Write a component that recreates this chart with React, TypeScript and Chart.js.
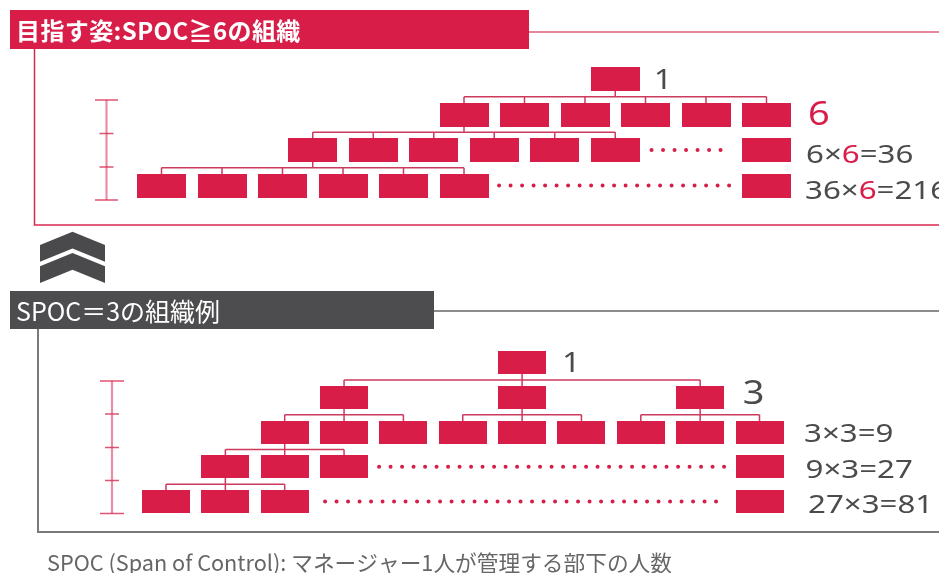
import React, { useEffect, useRef } from "react";
import { Chart, registerables } from "chart.js";

Chart.register(...registerables);

const W = 939;
const H = 573;
const RED = "#d81e48";
const LINE_RED = "#cc3a5e";
const GRAY_TEXT = "#4b4b4b";
const FONT = '"Noto Sans CJK JP", "Noto Sans", sans-serif';
const NUM_FONT = '"Noto Sans", "Open Sans", sans-serif';

// ---------- Top organisation: SPOC ≥ 6 ----------
const topTitle = "目指す姿:SPOC≧6の組織";
const topSpoc = 6;
const topLevelCounts = [1, 6, 36, 216];
// box positions (slot index) per level
const topLevelSlots = [
  [7.5],
  [5, 6, 7, 8, 9, 10],
  [2.5, 3.5, 4.5, 5.5, 6.5, 7.5, 10],
  [0, 1, 2, 3, 4, 5, 10],
];
const topGroupLevels = [0, 1, 2];
const topGroupParents = [7.5, 5, 2.5];
const topGroupChildren = [
  [5, 6, 7, 8, 9, 10],
  [2.5, 3.5, 4.5, 5.5, 6.5, 7.5],
  [0, 1, 2, 3, 4, 5],
];
const topEllipsisLevels = [2, 3];
const topEllipsisFrom = [8.1, 5.58];
const topEllipsisTo = [9.27, 9.57];

// ---------- Bottom organisation: SPOC = 3 ----------
const botTitle = "SPOC＝3の組織例";
const botSpoc = 3;
const botLevelCounts = [1, 3, 9, 27, 81];
const botLevelSlots = [
  [6],
  [3, 6, 9],
  [2, 3, 4, 5, 6, 7, 8, 9, 10],
  [1, 2, 3, 10],
  [0, 1, 2, 10],
];
const botGroupLevels = [0, 1, 1, 1, 2, 3];
const botGroupParents = [6, 3, 6, 9, 2, 1];
const botGroupChildren = [
  [3, 6, 9],
  [2, 3, 4],
  [5, 6, 7],
  [8, 9, 10],
  [1, 2, 3],
  [0, 1, 2],
];
const botEllipsisLevels = [3, 4];
const botEllipsisFrom = [3.59, 2.68];
const botEllipsisTo = [9.42, 9.29];

const footnote = "SPOC (Span of Control): マネージャー1人が管理する部下の人数";

// ---------- layout / style (not data) ----------
function rangeFor(originPx: number, unitPx: number, totalPx: number) {
  return { min: -originPx / unitPx, max: (totalPx - originPx) / unitPx };
}
const TOP_X = rangeFor(161.5, 60.5, W);
const TOP_Y = rangeFor(79, 35.5, H);
const BOT_X = rangeFor(166, 59.35, W);
const BOT_Y = rangeFor(362.5, 34.75, H);

const TOP_BOX = { w: 49, h: 24 };
const BOT_BOX = { w: 48, h: 23 };

const topLabelStyle = [
  { size: 27, dx: 14, dy: 9.5, color: GRAY_TEXT, sx: 1.2 },
  { size: 33, dx: 17, dy: 10, color: RED, sx: 1.15 },
  { size: 25, dx: 15, dy: 13, color: GRAY_TEXT, sx: 1.25 },
  { size: 25, dx: 14, dy: 13, color: GRAY_TEXT, sx: 1.25 },
];
const botLabelStyle = [
  { size: 27, dx: 16, dy: 9.5, color: GRAY_TEXT, sx: 1.2 },
  { size: 33, dx: 18.5, dy: 7, color: GRAY_TEXT, sx: 1.15 },
  { size: 25, dx: 20.5, dy: 10, color: GRAY_TEXT, sx: 1.25 },
  { size: 25, dx: 22, dy: 11.5, color: GRAY_TEXT, sx: 1.25 },
  { size: 25, dx: 24.5, dy: 11, color: GRAY_TEXT, sx: 1.25 },
];

type Seg = { text: string; color: string };

function labelSegments(counts: number[], spoc: number, level: number, baseColor: string, spocColor: string): Seg[] {
  if (level < 2) return [{ text: String(counts[level]), color: baseColor }];
  return [
    { text: `${counts[level - 1]}×`, color: baseColor },
    { text: String(spoc), color: spocColor },
    { text: `=${counts[level]}`, color: baseColor },
  ];
}

function makeBox(w: number, h: number, color: string) {
  const c = document.createElement("canvas");
  c.width = w;
  c.height = h;
  const g = c.getContext("2d")!;
  g.fillStyle = color;
  g.fillRect(0, 0, w, h);
  return c;
}

function buildDatasets(
  levelSlots: number[][],
  groupLevels: number[],
  groupParents: number[],
  groupChildren: number[][],
  ellLevels: number[],
  ellFrom: number[],
  ellTo: number[],
  box: HTMLCanvasElement,
  xID: string,
  yID: string
) {
  const ds: any[] = [];
  levelSlots.forEach((slots, lvl) => {
    ds.push({
      type: "scatter",
      data: slots.map((s) => ({ x: s, y: lvl })),
      pointStyle: box,
      pointRadius: 10,
      showLine: false,
      clip: false,
      order: 0,
      xAxisID: xID,
      yAxisID: yID,
    });
  });
  const line = (pts: { x: number; y: number }[]) => ({
    type: "scatter",
    data: pts,
    showLine: true,
    borderColor: LINE_RED,
    borderWidth: 1.5,
    pointRadius: 0,
    clip: false,
    order: 2,
    xAxisID: xID,
    yAxisID: yID,
  });
  groupLevels.forEach((lvl, gi) => {
    const ch = groupChildren[gi];
    const mid = lvl + 0.5;
    ds.push(line([{ x: ch[0], y: mid }, { x: ch[ch.length - 1], y: mid }]));
    ds.push(line([{ x: groupParents[gi], y: lvl }, { x: groupParents[gi], y: mid }]));
    ch.forEach((c) => ds.push(line([{ x: c, y: mid }, { x: c, y: lvl + 1 }])));
  });
  ellLevels.forEach((lvl, i) => {
    ds.push({
      type: "scatter",
      data: [
        { x: ellFrom[i], y: lvl },
        { x: ellTo[i], y: lvl },
      ],
      showLine: true,
      borderColor: RED,
      borderWidth: 4,
      borderDash: [0, 11.5],
      borderCapStyle: "round",
      pointRadius: 0,
      clip: false,
      order: 1,
      xAxisID: xID,
      yAxisID: yID,
    });
  });
  return ds;
}

function drawRich(ctx: CanvasRenderingContext2D, x: number, y: number, segs: Seg[], font: string, sx: number) {
  ctx.save();
  ctx.translate(x, y);
  ctx.scale(sx, 1);
  ctx.font = font;
  ctx.textBaseline = "alphabetic";
  ctx.textAlign = "left";
  let cx = 0;
  for (const s of segs) {
    ctx.fillStyle = s.color;
    ctx.fillText(s.text, cx, 0);
    cx += ctx.measureText(s.text).width;
  }
  ctx.restore();
}

const decorPlugin = {
  id: "decor",
  beforeDatasetsDraw(chart: any) {
    const ctx: CanvasRenderingContext2D = chart.ctx;
    ctx.save();
    // top frame
    ctx.fillStyle = RED;
    ctx.fillRect(10, 10, 519, 39);
    ctx.strokeStyle = "#df5f7e";
    ctx.lineWidth = 1.5;
    ctx.beginPath();
    ctx.moveTo(529, 32);
    ctx.lineTo(W, 32);
    ctx.stroke();
    ctx.strokeStyle = "#d8284f";
    ctx.lineWidth = 1.5;
    ctx.beginPath();
    ctx.moveTo(34.5, 49);
    ctx.lineTo(34.5, 225);
    ctx.lineTo(W, 225);
    ctx.stroke();

    // chevrons
    ctx.fillStyle = "#4a4a4c";
    for (const y0 of [231.7, 253]) {
      ctx.beginPath();
      ctx.moveTo(40, y0 + 13.3);
      ctx.lineTo(72.5, y0);
      ctx.lineTo(105, y0 + 13.3);
      ctx.lineTo(105, y0 + 30);
      ctx.lineTo(72.5, y0 + 16.7);
      ctx.lineTo(40, y0 + 30);
      ctx.closePath();
      ctx.fill();
    }

    // bottom frame
    ctx.fillStyle = "#4d4d4f";
    ctx.fillRect(10, 291, 424, 38);
    ctx.strokeStyle = "#666";
    ctx.lineWidth = 1.5;
    ctx.beginPath();
    ctx.moveTo(434, 311);
    ctx.lineTo(W, 311);
    ctx.stroke();
    ctx.strokeStyle = "#7a7a7a";
    ctx.lineWidth = 2;
    ctx.beginPath();
    ctx.moveTo(38, 329);
    ctx.lineTo(38, 532);
    ctx.lineTo(W, 532);
    ctx.stroke();

    // scale bars
    const bar = (x: number, y0: number, y1: number, ticks: number[], capW: number, tickW: number) => {
      ctx.strokeStyle = "rgba(226,80,115,0.65)";
      ctx.lineWidth = 2.2;
      ctx.beginPath();
      ctx.moveTo(x, y0);
      ctx.lineTo(x, y1);
      ctx.stroke();
      ctx.strokeStyle = "rgba(216,40,80,0.8)";
      ctx.lineWidth = 1.6;
      ctx.beginPath();
      ctx.moveTo(x - capW / 2, y0);
      ctx.lineTo(x + capW / 2, y0);
      ctx.moveTo(x - capW / 2, y1);
      ctx.lineTo(x + capW / 2, y1);
      for (const t of ticks) {
        ctx.moveTo(x - tickW / 2, t);
        ctx.lineTo(x + tickW / 2, t);
      }
      ctx.stroke();
    };
    bar(106.5, 100, 200, [133.5, 167], 23, 14);
    bar(112, 381, 513.5, [414, 447.5, 480.5], 24, 14);
    ctx.restore();
  },
  afterDatasetsDraw(chart: any) {
    const ctx: CanvasRenderingContext2D = chart.ctx;
    const s = chart.scales;
    ctx.save();
    // titles
    ctx.fillStyle = "#ffffff";
    ctx.textBaseline = "middle";
    ctx.textAlign = "left";
    ctx.font = `bold 24px ${FONT}`;
    (ctx as any).letterSpacing = "0.4px";
    ctx.fillText(topTitle, 16, 31);
    (ctx as any).letterSpacing = "0px";
    ctx.font = `25px ${FONT}`;
    ctx.fillText(botTitle, 16, 311);
    // footnote
    ctx.fillStyle = "#666666";
    ctx.font = `21.7px ${FONT}`;
    ctx.fillText(footnote, 47, 563);

    // level labels
    topLevelCounts.forEach((_, lvl) => {
      const slots = topLevelSlots[lvl];
      const st = topLabelStyle[lvl];
      const x = s.xt.getPixelForValue(slots[slots.length - 1]) + TOP_BOX.w / 2 + st.dx;
      const y = s.yt.getPixelForValue(lvl) + st.dy;
      drawRich(ctx, x, y, labelSegments(topLevelCounts, topSpoc, lvl, st.color, RED), `400 ${st.size}px ${NUM_FONT}`, st.sx);
    });
    botLevelCounts.forEach((_, lvl) => {
      const slots = botLevelSlots[lvl];
      const st = botLabelStyle[lvl];
      const x = s.xb.getPixelForValue(slots[slots.length - 1]) + BOT_BOX.w / 2 + st.dx;
      const y = s.yb.getPixelForValue(lvl) + st.dy;
      drawRich(ctx, x, y, labelSegments(botLevelCounts, botSpoc, lvl, st.color, st.color), `400 ${st.size}px ${NUM_FONT}`, st.sx);
    });
    ctx.restore();
  },
};

export default function App() {
  const ref = useRef<HTMLCanvasElement | null>(null);
  useEffect(() => {
    document.body.style.margin = "0";
    const canvas = ref.current!;
    const topBox = makeBox(TOP_BOX.w, TOP_BOX.h, RED);
    const botBox = makeBox(BOT_BOX.w, BOT_BOX.h, RED);
    const datasets = [
      ...buildDatasets(topLevelSlots, topGroupLevels, topGroupParents, topGroupChildren, topEllipsisLevels, topEllipsisFrom, topEllipsisTo, topBox, "xt", "yt"),
      ...buildDatasets(botLevelSlots, botGroupLevels, botGroupParents, botGroupChildren, botEllipsisLevels, botEllipsisFrom, botEllipsisTo, botBox, "xb", "yb"),
    ];
    const hidden = { type: "linear" as const, display: false };
    const chart = new Chart(canvas, {
      type: "scatter",
      data: { datasets },
      options: {
        animation: false,
        responsive: false,
        events: [],
        layout: { padding: 0, autoPadding: false },
        plugins: { legend: { display: false }, tooltip: { enabled: false }, title: { display: false } },
        scales: {
          xt: { ...hidden, axis: "x", position: "bottom", ...TOP_X },
          yt: { ...hidden, axis: "y", position: "left", reverse: true, ...TOP_Y },
          xb: { ...hidden, axis: "x", position: "bottom", ...BOT_X },
          yb: { ...hidden, axis: "y", position: "left", reverse: true, ...BOT_Y },
        },
      } as any,
      plugins: [decorPlugin],
    });
    return () => chart.destroy();
  }, []);
  return (
    <div style={{ position: "fixed", left: 0, top: 0, width: W, height: H, background: "#fff" }}>
      <canvas ref={ref} width={W} height={H} style={{ display: "block" }} />
    </div>
  );
}
